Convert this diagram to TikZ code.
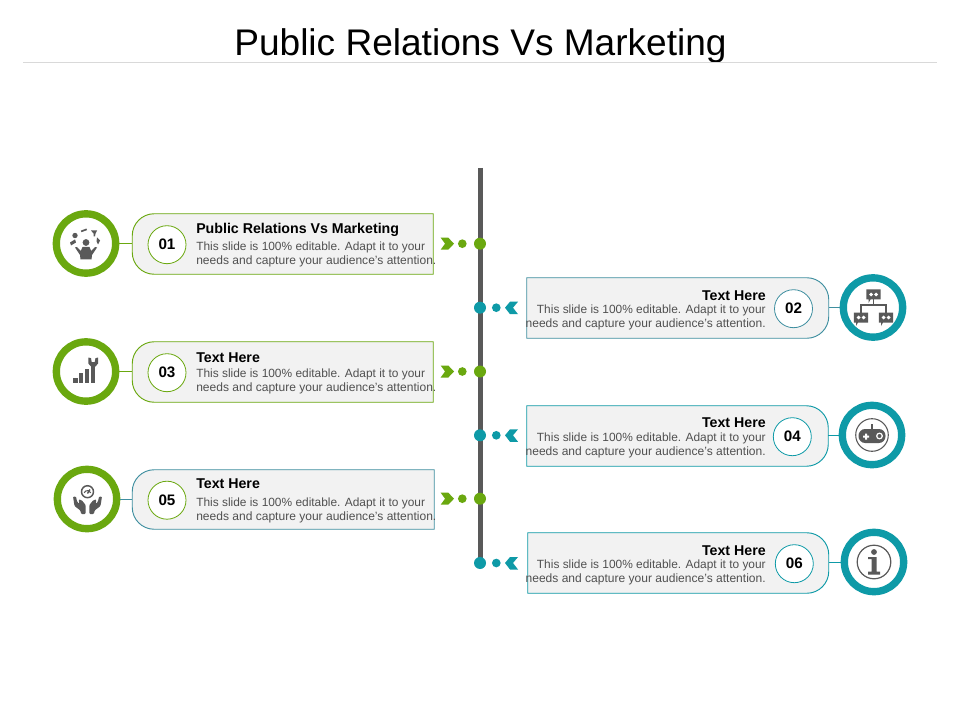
\documentclass[tikz,border=0pt]{standalone}
\usepackage{fontspec}
\setmainfont{Liberation Sans}
\definecolor{grn}{HTML}{6AA80F}
\definecolor{tea}{HTML}{0E9AA7}
\definecolor{tealine}{HTML}{3F8FA0}
\definecolor{icn}{HTML}{595959}
\definecolor{txt}{HTML}{505050}
\definecolor{cardfill}{HTML}{F2F2F2}
\tikzset{
  ringnode/.style={circle,draw=#1,line width=5.5pt,minimum size=44.5pt,inner sep=0pt,fill=white},
  tagnode/.style={circle,draw=#1,line width=.6pt,minimum size=28.5pt,inner sep=0pt,fill=white,font=\bfseries\fontsize{11.4}{13}\selectfont,text=black},
  cardbox/.style={rectangle,inner sep=0pt,draw=none},
  headtext/.style={font=\bfseries\fontsize{10.65}{12}\selectfont,text=black,inner sep=0pt},
  bodytext/.style={font=\fontsize{9.03}{11}\selectfont,text=txt,inner sep=0pt},
  bodytextb/.style={font=\fontsize{8.93}{11}\selectfont,text=txt,inner sep=0pt},
  spine/.style={draw=icn,line width=3.75pt},
  bigdot/.style={circle,fill=#1,minimum size=9pt,inner sep=0pt},
  smalldot/.style={circle,fill=#1,minimum size=6.5pt,inner sep=0pt},
  link/.style={draw=#1,line width=.7pt},
}
\newcommand{\leftcard}[9]{%
  \node[cardbox,minimum width={(#4-#2)*0.75pt},minimum height={(#5-#3)*0.75pt}] (card#1) at ({(#2+#4)/2},{(#3+#5)/2}) {};
  \path[draw=#6,fill=cardfill,line width=.7pt] (card#1.north east) [rounded corners=16.5pt] -- (card#1.north west) -- (card#1.south west) [sharp corners] -- (card#1.south east) -- cycle;
  \node[ringnode=grn] (ring#1) at (#7,#8) {};
  \draw[link=#6] (ring#1.east) -- (ring#1.east -| card#1.west);
  \node[tagnode=#9] (tag#1) at ({#2+34.5},{(#3+#5)/2+0.7}) {#1};
}
\newcommand{\tagdx}{35}
\newcommand{\rightcard}[9]{%
  \node[cardbox,minimum width={(#4-#2)*0.75pt},minimum height={(#5-#3)*0.75pt}] (card#1) at ({(#2+#4)/2},{(#3+#5)/2}) {};
  \path[draw=#6,fill=cardfill,line width=.7pt] (card#1.north west) [rounded corners=16.5pt] -- (card#1.north east) -- (card#1.south east) [sharp corners] -- (card#1.south west) -- cycle;
  \node[ringnode=tea] (ring#1) at (#7,#8) {};
  \draw[link=#6] (ring#1.west) -- (ring#1.west -| card#1.east);
  \node[tagnode=#9] (tag#1) at ({#4-\tagdx},{(#3+#5)/2+0.7}) {#1};
}
\newcommand{\lefttext}[5]{%
  \node[headtext,anchor=mid west] (h#1) at (196,{#3+1.5}) {#2};
  \node[bodytextb,anchor=mid west] (a#1) at (196,{#4+1}) {This slide is 100\% editable. Adapt it to your};
  \node[bodytext,anchor=mid west] (b#1) at (196,{#5+1}) {needs and capture your audience's attention.};
}
\newcommand{\righttext}[5]{%
  \node[headtext,anchor=mid east] (h#1) at (766,{#3+1.5}) {#2};
  \node[bodytextb,anchor=mid east] (a#1) at (766,{#4+1}) {This slide is 100\% editable. Adapt it to your};
  \node[bodytext,anchor=mid east] (b#1) at (766,{#5+1}) {needs and capture your audience's attention.};
}
\newcommand{\greenmark}[2]{%
  \fill[grn,shift={(454,#1)}] (-13.3,-6) -- (-5.7,-6) -- (0,0) -- (-5.7,6) -- (-13.3,6) -- (-9,0) -- cycle;
  \node[smalldot=grn] (sd#2) at (462.3,#1) {};
  \node[bigdot=grn] (bd#2) at (480,#1) {};
}
\newcommand{\tealmark}[2]{%
  \fill[tea,shift={(505,#1)}] (13,-6) -- (5,-6) -- (0,0) -- (5,6.5) -- (13,6.5) -- (8,0) -- cycle;
  \node[smalldot=tea] (sd#2) at (496.3,#1) {};
  \node[bigdot=tea] (bd#2) at (480,#1) {};
}
\newcommand{\bubble}[2]{%
  \begin{scope}[shift={(#1,#2)}]
    \fill[icn] (-7.2,-5) -- (7.2,-5) -- (7.2,5) -- (-3,5) -- (-5,8.5) -- (-5,5) -- (-7.2,5) -- cycle;
    \fill[white] (-2.4,0) circle[radius=1.9] (2.6,0) circle[radius=1.9];
  \end{scope}
}
\begin{document}
\begin{tikzpicture}[x=0.75pt,y=-0.75pt]
\useasboundingbox (0,0) rectangle (960,720);
\fill[white] (0,0) rectangle (960,720);
\node[font=\fontsize{27.8}{32}\selectfont,text=black,inner sep=0pt,anchor=mid] (title) at (480.5,52) {Public Relations Vs Marketing};
\coordinate (ruleL) at (23,63);
\coordinate (ruleR) at (937,63);
\draw[draw=black!15,line width=.75pt] (ruleL) -- (ruleR);
\coordinate (spineT) at (480,168);
\coordinate (spineB) at (480,563);
\draw[spine] (spineT) -- (spineB);
\greenmark{243.7}{1}
\tealmark{307.7}{2}
\greenmark{371.5}{3}
\tealmark{435.3}{4}
\greenmark{498.7}{5}
\tealmark{563}{6}
\leftcard{01}{132.5}{214}{433}{274}{grn}{86}{243.5}{grn}
\leftcard{03}{132.5}{342}{433}{402}{grn}{86}{371.5}{grn}
\leftcard{05}{132.5}{470}{434}{529}{tealine}{87}{499}{grn}
\rightcard{02}{527}{278}{828.5}{338}{tealine}{873}{307.5}{tealine}
\renewcommand{\tagdx}{35.7}
\rightcard{04}{527}{406}{828}{466}{tea}{872}{435}{tea}
\renewcommand{\tagdx}{34.2}
\rightcard{06}{528}{533}{828.5}{593}{tea}{874}{562}{tea}
\lefttext{1}{Public Relations Vs Marketing}{228}{246}{260}
\lefttext{3}{Text Here}{357}{373}{387}
\lefttext{5}{Text Here}{483}{502}{516}
\righttext{2}{Text Here}{295}{309}{323}
\righttext{4}{Text Here}{422}{437}{451}
\righttext{6}{Text Here}{550}{564}{578}
% icon 01
\begin{scope}[shift={(86,243.5)}]
  \fill[icn] (0,-1) circle[radius=3.4];
  \fill[icn] (-11,4) -- (-9,3.5) -- (-5.2,7.5) -- (-3.5,3.5) -- (3.5,3.5) -- (5.2,7.5) -- (9,3.5) -- (11,4) -- (6,11.5) -- (5.5,16) -- (-5.5,16) -- (-6,11.5) -- cycle;
  \fill[icn] (-11,-8) circle[radius=2.7];
  \fill[icn,rotate around={20:(-2,-13)}] (-5,-14) rectangle (1,-12.3);
  \fill[icn] (5,-13) -- (11,-13) -- (9.5,-10) -- (9,-7) -- (7.5,-7) -- (7.5,-10) -- cycle;
  \fill[icn] (11,-6) -- (14,-3) -- (12,1) -- (10.5,-2) -- cycle;
  \fill[icn] (-16,-1) -- (-11,-4) -- (-10,-1) -- (-15,2) -- cycle;
\end{scope}
% icon 03
\begin{scope}[shift={(86,371.5)}]
  \fill[icn] (-12.7,6.7) rectangle (-8.3,11.7);
  \fill[icn] (-7.3,1) rectangle (-3,11.7);
  \fill[icn] (-1,-3) rectangle (3.3,11.7);
  \fill[icn] (5,-7) rectangle (9.3,11.7);
  \fill[icn] (2.5,-14) -- (5,-13.3) -- (5.7,-9.5) -- (8.7,-9.5) -- (9.5,-13.3) -- (12,-14) -- (12.2,-8) -- (9.3,-5) -- (5,-5) -- (2.3,-8) -- cycle;
\end{scope}
% icon 05
\begin{scope}[shift={(87,499)}]
  \draw[icn,line width=1.1pt] (0.5,-7.3) circle[radius=6];
  \draw[icn,line width=.8pt] (-2.8,-6.2) arc[start angle=200,end angle=340,radius=3.5];
  \draw[icn,line width=1pt] (0.5,-5.5) -- (3,-9.5);
  \foreach \s in {1,-1}{
    \fill[icn,xscale=\s,shift={(\s*0.5,0)},rounded corners=.8pt] (-14.5,-2.5) -- (-11.5,-2.5) -- (-10.5,2.5) -- (-8,5) -- (-9,0.5) -- (-6,1) -- (-1.8,6) -- (-1.8,15) -- (-6.5,15) -- (-7,11.5) -- (-13,7) -- cycle;
  }
\end{scope}
% icon 02
\begin{scope}[shift={(873,307.5)}]
  \draw[icn,line width=.9pt] (0.5,-8) -- (0.5,-2.5);
  \draw[icn,line width=.9pt] (-12,5) |- (13,-2.5) -- (13,5);
  \bubble{0.5}{-13}
  \bubble{-12}{10}
  \bubble{13}{10}
\end{scope}
% icon 04
\begin{scope}[shift={(872,435)}]
  \draw[icn,line width=.8pt] (0,0) circle[radius=16.3];
  \fill[icn,rounded corners=5pt] (-13.5,-6) rectangle (13.5,8);
  \fill[icn] (-1,-11) rectangle (1,-5);
  \fill[white] (-9,0.5) rectangle (-3,2.5) (-7,-1.5) rectangle (-5,4.5);
  \draw[white,line width=.9pt] (7.5,1) circle[radius=2.8];
\end{scope}
% icon 06
\begin{scope}[shift={(874,562)}]
  \draw[icn,line width=.9pt] (0,0) circle[radius=16.8];
  \fill[icn] (0,-10) circle[radius=2.9];
  \fill[icn] (-6,-5) -- (2.5,-5) -- (2.5,9.5) -- (6,9.5) -- (6,12.5) -- (-6,12.5) -- (-6,9.5) -- (-2.5,9.5) -- (-2.5,-3) -- (-6,-3) -- cycle;
\end{scope}
\end{tikzpicture}
\end{document}
